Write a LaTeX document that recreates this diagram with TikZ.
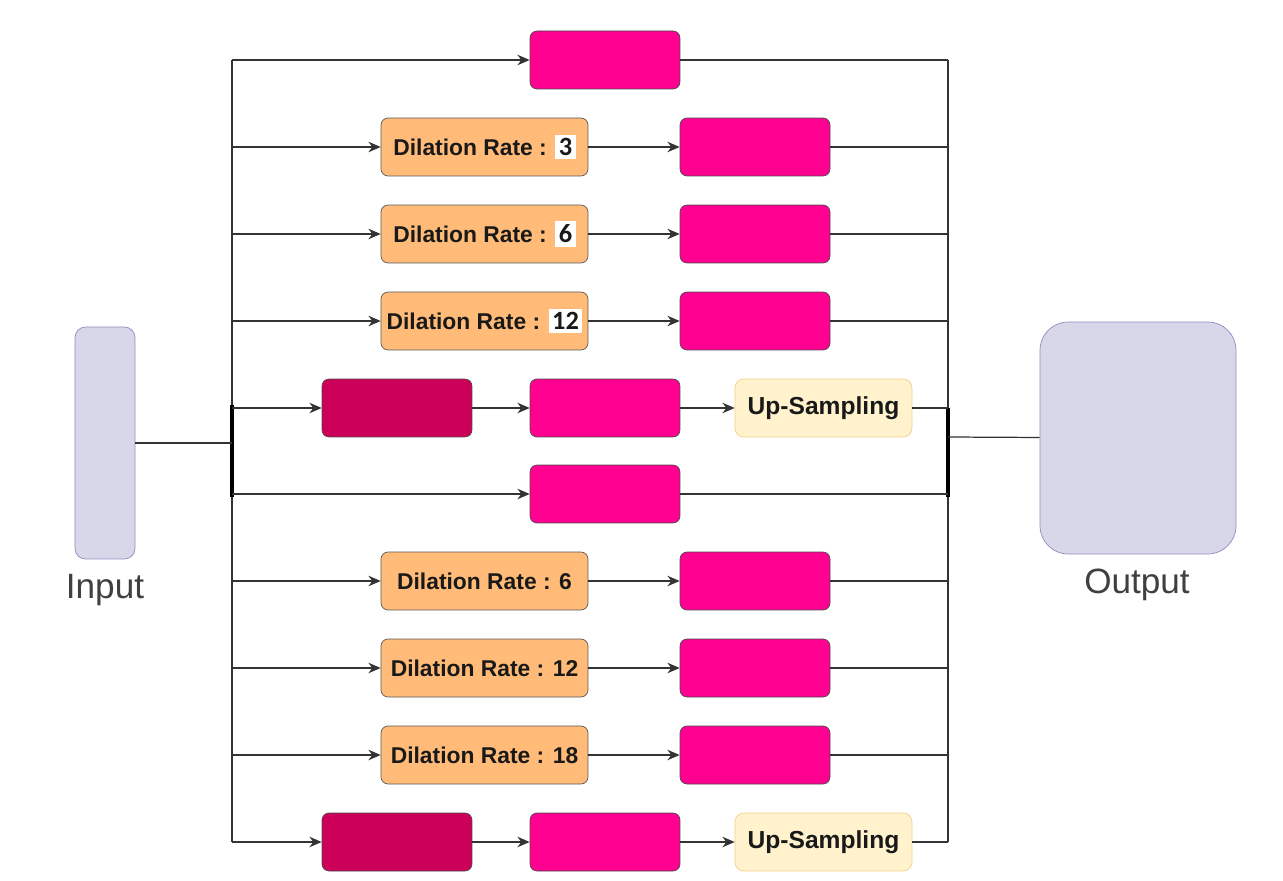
\documentclass[tikz,border=0pt]{standalone}
\usepackage{fontspec}
\setmainfont{Liberation Sans}
\newfontfamily\patchfont{Carlito}
\usetikzlibrary{positioning,calc,arrows.meta}

\definecolor{convpink}{HTML}{FF0090}
\definecolor{poolpink}{HTML}{CC0058}
\definecolor{ratefill}{HTML}{FFBB77}
\definecolor{upfill}{HTML}{FFF2CC}
\definecolor{updraw}{HTML}{F3D08A}
\definecolor{iofill}{HTML}{D8D7EA}
\definecolor{iodraw}{HTML}{8F8CC0}
\definecolor{linegray}{HTML}{333333}

\newcommand{\ratenum}[1]{{\setlength{\fboxsep}{2pt}\colorbox{white}{\patchfont\fontsize{15}{17}\selectfont\bfseries #1}}}

\begin{document}
\begin{tikzpicture}[x=0.02cm, y=-0.02cm,
	conv/.style={draw=black!70, fill=convpink, rounded corners=4pt, minimum width=3cm, minimum height=1.16cm, inner sep=0pt},
	pool/.style={conv, fill=poolpink},
	rate/.style={draw=black!65, fill=ratefill, rounded corners=4pt, minimum width=4.14cm, minimum height=1.16cm, inner sep=0pt, text=black!90, font=\fontsize{13}{15}\selectfont\bfseries},
	upsamp/.style={draw=updraw, fill=upfill, rounded corners=5pt, minimum width=3.54cm, minimum height=1.16cm, inner sep=0pt, text=black!90, font=\fontsize{14}{16}\selectfont\bfseries},
	io/.style={draw=iodraw, fill=iofill, inner sep=0pt},
	iolabel/.style={text=black!75, font=\fontsize{20}{24}\selectfont},
	wire/.style={draw=linegray, line width=0.7pt},
	arr/.style={wire, -{Stealth[length=7pt, width=6pt]}}
]
	\useasboundingbox (0, 0) rectangle (1283, 881);

	% input / output
	\node[io, rounded corners=6pt, minimum width=1.2cm, minimum height=4.64cm] (input) at (105, 443) {};
	\node[iolabel] (inlbl) at (105, 590) {Input};
	\node[io, rounded corners=16pt, minimum width=3.92cm, minimum height=4.64cm] (output) at (1138, 438) {};
	\node[iolabel] (outlbl) at (1137, 585) {Output};

	% bus points, left and right
	\coordinate (l1) at (232, 60);
	\coordinate (l2) at (232, 147);
	\coordinate (l3) at (232, 234);
	\coordinate (l4) at (232, 321);
	\coordinate (l5) at (232, 408);
	\coordinate (l6) at (232, 494);
	\coordinate (l7) at (232, 581);
	\coordinate (l8) at (232, 668);
	\coordinate (l9) at (232, 755);
	\coordinate (l10) at (232, 842);
	\coordinate (lin) at (232, 443);
	\coordinate (ltop) at (232, 405);
	\coordinate (lbot) at (232, 497);

	\coordinate (r1) at (948, 60);
	\coordinate (r2) at (948, 147);
	\coordinate (r3) at (948, 234);
	\coordinate (r4) at (948, 321);
	\coordinate (r5) at (948, 408);
	\coordinate (r6) at (948, 494);
	\coordinate (r7) at (948, 581);
	\coordinate (r8) at (948, 668);
	\coordinate (r9) at (948, 755);
	\coordinate (r10) at (948, 842);
	\coordinate (rout) at (948, 437);
	\coordinate (rtop) at (948, 408);
	\coordinate (rbot) at (948, 497);

	% branches
	\node[conv] (c1) at (605, 60) {};

	\node[rate] (d2) at (484.5, 147) {Dilation Rate : \ratenum{3}};
	\node[conv] (c2) at (755, 147) {};
	\node[rate] (d3) at (484.5, 234) {Dilation Rate : \ratenum{6}};
	\node[conv] (c3) at (755, 234) {};
	\node[rate] (d4) at (484.5, 321) {Dilation Rate : \ratenum{12}};
	\node[conv] (c4) at (755, 321) {};

	\node[pool] (p5) at (397, 408) {};
	\node[conv] (c5) at (605, 408) {};
	\node[upsamp] (u5) at (823.5, 408) {Up-Sampling};

	\node[conv] (c6) at (605, 494) {};

	\node[rate] (d7) at (484.5, 581) {Dilation Rate : 6};
	\node[conv] (c7) at (755, 581) {};
	\node[rate] (d8) at (484.5, 668) {Dilation Rate : 12};
	\node[conv] (c8) at (755, 668) {};
	\node[rate] (d9) at (484.5, 755) {Dilation Rate : 18};
	\node[conv] (c9) at (755, 755) {};

	\node[pool] (p10) at (397, 842) {};
	\node[conv] (c10) at (605, 842) {};
	\node[upsamp] (u10) at (823.5, 842) {Up-Sampling};

	% buses
	\draw [wire] (l1) -- (l10);
	\draw [wire] (r1) -- (r10);
	\draw [draw=black, line width=2.2pt] (ltop) -- (lbot);
	\draw [draw=black, line width=2.2pt] (rtop) -- (rbot);
	\draw [wire] (input) -- (lin);
	\draw [wire] (rout) -- (output);

	% connectors
	\draw [arr] (l1) -- (c1);
	\draw [wire] (c1) -- (r1);

	\draw [arr] (l2) -- (d2);
	\draw [arr] (d2) -- (c2);
	\draw [wire] (c2) -- (r2);
	\draw [arr] (l3) -- (d3);
	\draw [arr] (d3) -- (c3);
	\draw [wire] (c3) -- (r3);
	\draw [arr] (l4) -- (d4);
	\draw [arr] (d4) -- (c4);
	\draw [wire] (c4) -- (r4);

	\draw [arr] (l5) -- (p5);
	\draw [arr] (p5) -- (c5);
	\draw [arr] (c5) -- (u5);
	\draw [wire] (u5) -- (r5);

	\draw [arr] (l6) -- (c6);
	\draw [wire] (c6) -- (r6);

	\draw [arr] (l7) -- (d7);
	\draw [arr] (d7) -- (c7);
	\draw [wire] (c7) -- (r7);
	\draw [arr] (l8) -- (d8);
	\draw [arr] (d8) -- (c8);
	\draw [wire] (c8) -- (r8);
	\draw [arr] (l9) -- (d9);
	\draw [arr] (d9) -- (c9);
	\draw [wire] (c9) -- (r9);

	\draw [arr] (l10) -- (p10);
	\draw [arr] (p10) -- (c10);
	\draw [arr] (c10) -- (u10);
	\draw [wire] (u10) -- (r10);
\end{tikzpicture}
\end{document}
